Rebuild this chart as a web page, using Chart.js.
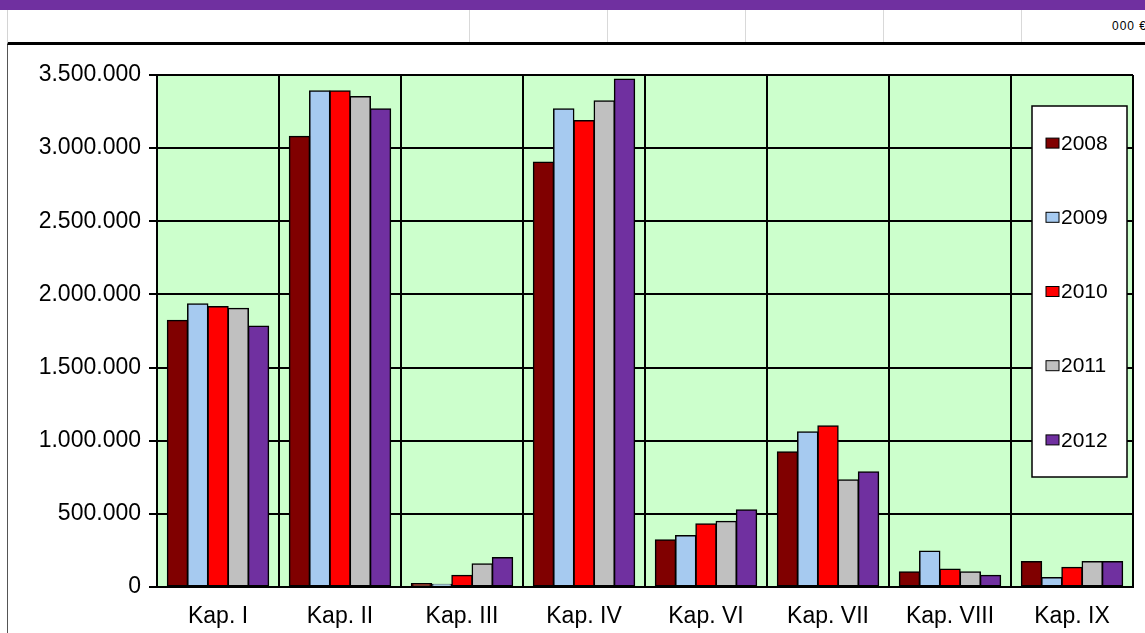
<!DOCTYPE html>
<html>
<head>
<meta charset="utf-8">
<script src="https://cdn.jsdelivr.net/npm/chart.js@4/dist/chart.umd.min.js"></script>
<style>
body{margin:0;width:1145px;height:633px;overflow:hidden;background:#fff;position:relative;font-family:"Liberation Sans",Arial,sans-serif;}
#topbar{position:absolute;left:0;top:0;width:1145px;height:10px;background:#7030a0;}
#row{position:absolute;left:7px;top:10px;width:1138px;height:32px;border-left:1px solid #d4d4d4;border-bottom:3px solid #000;overflow:hidden;}
.cell{position:absolute;top:0;height:32px;border-left:1px solid #d9d9d9;}
#unit{position:absolute;top:9px;font-size:12px;color:#000;white-space:nowrap;letter-spacing:1px;}
#frame{position:absolute;left:7px;top:45px;width:1px;height:588px;background:#555;}
#chartBox{position:absolute;left:8px;top:46px;width:1137px;height:587px;}
</style>
</head>
<body>
<div id="topbar"></div>
<div id="row">
  <div class="cell" style="left:461px"></div>
  <div class="cell" style="left:599px"></div>
  <div class="cell" style="left:737px"></div>
  <div class="cell" style="left:875px"></div>
  <div class="cell" style="left:1013px"></div>
  <div id="unit" style="left:1104px">000 €</div>
</div>
<div id="frame"></div>
<div id="chartBox"><canvas id="chart"></canvas></div>
<script>
// Kapitel und Jahre
const kapitel = ["Kap. I","Kap. II","Kap. III","Kap. IV","Kap. VI","Kap. VII","Kap. VIII","Kap. IX"];
const jahre = ["2008","2009","2010","2011","2012"];
const farben = ["#800000","#a6caf0","#ff0000","#c0c0c0","#7030a0"];

const werte2008 = [1823000, 3080000,  23000, 2904000, 323000,  924000, 104000, 173000];
const werte2009 = [1936000, 3391000,  18000, 3269000, 351000, 1060000, 245000,  65000];
const werte2010 = [1917000, 3391000,  79000, 3188000, 432000, 1102000, 122000, 134000];
const werte2011 = [1904000, 3352000, 159000, 3324000, 448000,  732000, 104000, 173000];
const werte2012 = [1783000, 3269000, 201000, 3472000, 527000,  788000,  79000, 173000];
const alleWerte = [werte2008, werte2009, werte2010, werte2011, werte2012];

const yTicks = [0,500000,1000000,1500000,2000000,2500000,3000000,3500000];

function punkte(n){
  return String(n).replace(/\B(?=(\d{3})+(?!\d))/g, ".");
}

Chart.defaults.font.family = '"Liberation Sans", Arial, sans-serif';
Chart.defaults.font.size = 23;
Chart.defaults.color = "#000";

// gruener Hintergrund der Zeichenflaeche
const plotBg = {
  id: "plotBg",
  beforeDraw(chart){
    const a = chart.chartArea, ctx = chart.ctx;
    ctx.save();
    ctx.fillStyle = "#ccffcc";
    ctx.fillRect(a.left, a.top, a.right - a.left, a.bottom - a.top);
    ctx.restore();
  }
};

// Legende als Kasten innerhalb der Zeichenflaeche
const boxLegend = {
  id: "boxLegend",
  afterDraw(chart){
    const a = chart.chartArea, ctx = chart.ctx;
    const w = 95, h = 371;
    const x = a.right - 6 - w, y = a.top + 31;
    ctx.save();
    ctx.fillStyle = "#fff";
    ctx.fillRect(x, y, w, h);
    ctx.strokeStyle = "#000";
    ctx.lineWidth = 1.5;
    ctx.strokeRect(x, y, w, h);
    const step = h / chart.data.datasets.length;
    chart.data.datasets.forEach((ds, i) => {
      const cy = y + step * (i + 0.5);
      ctx.fillStyle = ds.backgroundColor;
      ctx.fillRect(x + 14, cy - 5, 13, 10);
      ctx.lineWidth = 1;
      ctx.strokeRect(x + 14, cy - 5, 13, 10);
      ctx.fillStyle = "#000";
      ctx.font = '21px "Liberation Sans", Arial, sans-serif';
      ctx.textBaseline = "middle";
      ctx.fillText(ds.label, x + 29, cy + 1);
    });
    ctx.restore();
  }
};

const ctx1 = document.getElementById("chart").getContext("2d");

const data1 = {
  labels: kapitel,
  datasets: jahre.map((j, i) => ({
    label: j,
    data: alleWerte[i],
    backgroundColor: farben[i],
    borderColor: "#000",
    borderWidth: 1.5,
    borderSkipped: false,
    inflateAmount: 0.6,
    categoryPercentage: 0.83,
    barPercentage: 1.0
  }))
};

const config1 = {
  type: "bar",
  data: data1,
  plugins: [plotBg, boxLegend],
  options: {
    responsive: true,
    maintainAspectRatio: false,
    animation: false,
    layout: { padding: { top: 29, right: 12, left: 0, bottom: 0 } },
    plugins: { legend: { display: false }, tooltip: { enabled: false } },
    scales: {
      x: {
        grid: { color: "#000", lineWidth: 2, drawTicks: false, offset: true },
        border: { color: "#000", width: 2 },
        ticks: { padding: 16 },
        afterFit(s){ s.height = 46; }
      },
      y: {
        min: 0,
        max: 3500000,
        afterBuildTicks(s){ s.ticks = yTicks.map(v => ({ value: v })); },
        grid: { color: "#000", lineWidth: 2, tickLength: 8 },
        border: { color: "#000", width: 2 },
        ticks: { padding: 8, callback: v => punkte(v) },
        afterFit(s){ s.width = 149; }
      }
    }
  }
};
var myChart1 = new Chart(ctx1, config1);
</script>
</body>
</html>
